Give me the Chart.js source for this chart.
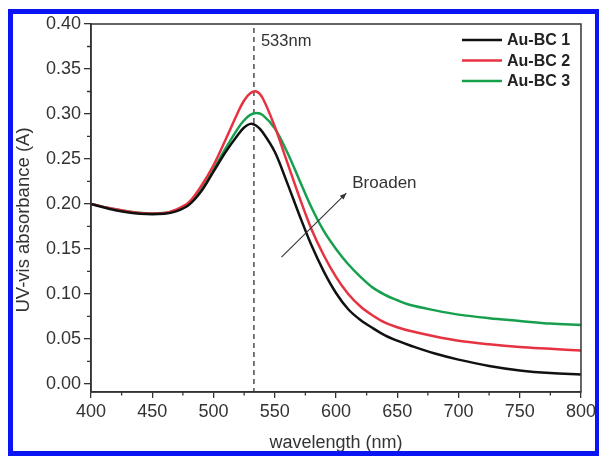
<!DOCTYPE html>
<html><head><meta charset="utf-8">
<script src="https://cdn.jsdelivr.net/npm/chart.js@4.4.1/dist/chart.umd.min.js"></script>
<style>html,body{margin:0;padding:0;background:#fff;}#wrap{width:599px;height:456px;}</style>
</head><body><div id="wrap"><canvas id="c" width="599" height="456"></canvas></div>
<script>
// ---- data ----
const wavelengths = [400,420,440,460,470,480,490,500,510,520,525,530,535,540,550,560,570,580,590,600,610,620,630,640,650,660,680,700,725,750,775,800];
const auBC1 = [0.200,0.193,0.189,0.189,0.192,0.199,0.214,0.236,0.258,0.277,0.285,0.289,0.287,0.280,0.258,0.224,0.188,0.154,0.125,0.101,0.083,0.071,0.062,0.054,0.048,0.043,0.034,0.027,0.020,0.015,0.012,0.0105];
const auBC2 = [0.200,0.194,0.190,0.190,0.194,0.202,0.220,0.243,0.272,0.302,0.315,0.323,0.325,0.318,0.286,0.247,0.208,0.172,0.143,0.119,0.100,0.086,0.076,0.068,0.063,0.059,0.053,0.048,0.044,0.041,0.039,0.037];
const auBC3 = [0.200,0.194,0.190,0.190,0.193,0.200,0.216,0.238,0.262,0.284,0.293,0.299,0.301,0.299,0.284,0.258,0.227,0.196,0.170,0.150,0.133,0.119,0.107,0.099,0.093,0.088,0.082,0.077,0.073,0.070,0.067,0.0655];
const seriesLabels = ['Au-BC 1','Au-BC 2','Au-BC 3'];
const xTicks = [400,450,500,550,600,650,700,750,800];
const yTicks = [0,0.05,0.10,0.15,0.20,0.25,0.30,0.35,0.40];
const xMinorTicks = [425,475,525,575,625,675,725,775];
const yMinorTicks = [0.025,0.075,0.125,0.175,0.225,0.275,0.325,0.375];
const peakWavelength = 533;
const peakLabel = '533nm';
const arrowFrom = [555.5, 0.141];
const arrowTo = [608.4, 0.212];
const arrowLabel = 'Broaden';
const xTitle = 'wavelength (nm)';
const yTitle = 'UV-vis absorbance (A)';

// ---- styles ----
const FONT = '"Liberation Sans", Arial, sans-serif';
const INK = '#333';
const colors = ['#111111','#e63241','#16a04e'];

const toPts = arr => wavelengths.map((w,i)=>({x:w,y:arr[i]}));

const decor = {
  id:'decor',
  beforeDatasetsDraw(chart){
    const {ctx, chartArea:a, scales:{x}} = chart;
    const px = x.getPixelForValue(peakWavelength);
    ctx.save();
    ctx.strokeStyle = '#222'; ctx.lineWidth = 1.2; ctx.setLineDash([5,4]);
    ctx.beginPath(); ctx.moveTo(px, a.top+4); ctx.lineTo(px, a.bottom); ctx.stroke();
    ctx.restore();
  },
  afterDraw(chart){
    const {ctx, chartArea:a, scales:{x,y}} = chart;
    ctx.save();
    // plot frame
    ctx.strokeStyle = INK; ctx.lineWidth = 1.5;
    ctx.strokeRect(a.left, a.top, a.right-a.left, a.bottom-a.top);
    // minor ticks
    ctx.lineWidth = 1.3;
    ctx.beginPath();
    xMinorTicks.forEach(v=>{const p=x.getPixelForValue(v); ctx.moveTo(p,a.bottom); ctx.lineTo(p,a.bottom+3.5);});
    yMinorTicks.forEach(v=>{const p=y.getPixelForValue(v); ctx.moveTo(a.left,p); ctx.lineTo(a.left-4,p);});
    ctx.stroke();
    // y axis title
    ctx.save();
    ctx.translate(24, (a.top+a.bottom)/2 + 12);
    ctx.rotate(-Math.PI/2);
    ctx.font = '18.5px '+FONT; ctx.fillStyle = INK; ctx.textAlign='center'; ctx.textBaseline='middle';
    ctx.fillText(yTitle, 0, 0);
    ctx.restore();
    // peak label
    const px = x.getPixelForValue(peakWavelength);
    ctx.fillStyle = INK; ctx.font = '16.5px '+FONT; ctx.textBaseline='middle'; ctx.textAlign='left';
    ctx.fillText(peakLabel, px+7, a.top+17);
    // arrow
    const x0=x.getPixelForValue(arrowFrom[0]), y0=y.getPixelForValue(arrowFrom[1]);
    const x1=x.getPixelForValue(arrowTo[0]), y1=y.getPixelForValue(arrowTo[1]);
    ctx.strokeStyle = INK; ctx.lineWidth = 1.1;
    ctx.beginPath(); ctx.moveTo(x0,y0); ctx.lineTo(x1,y1); ctx.stroke();
    const ang = Math.atan2(y1-y0,x1-x0), L=7, W=0.4;
    ctx.beginPath(); ctx.moveTo(x1,y1);
    ctx.lineTo(x1-L*Math.cos(ang-W), y1-L*Math.sin(ang-W));
    ctx.lineTo(x1-L*Math.cos(ang+W), y1-L*Math.sin(ang+W));
    ctx.closePath(); ctx.fillStyle=INK; ctx.fill();
    ctx.font = '17px '+FONT; ctx.fillStyle=INK;
    ctx.fillText(arrowLabel, x1+6, y1-10);
    // legend
    ctx.font = 'bold 16px '+FONT;
    chart.data.datasets.forEach((ds,i)=>{
      const ly = a.top + 16 + i*20.5;
      ctx.strokeStyle = ds.borderColor; ctx.lineWidth = 2.5;
      ctx.beginPath(); ctx.moveTo(a.right-119, ly); ctx.lineTo(a.right-79, ly); ctx.stroke();
      ctx.fillStyle = '#222'; ctx.fillText(ds.label, a.right-74, ly+1);
    });
    // outer blue frame
    ctx.strokeStyle = '#0a14f5'; ctx.lineWidth = 5;
    ctx.strokeRect(10.5, 11.5, 587, 442);
    ctx.restore();
  }
};

new Chart(document.getElementById('c'), {
  type:'line',
  data:{datasets:[
    {label:seriesLabels[0], data:toPts(auBC1), borderColor:colors[0]},
    {label:seriesLabels[1], data:toPts(auBC2), borderColor:colors[1]},
    {label:seriesLabels[2], data:toPts(auBC3), borderColor:colors[2]}
  ]},
  options:{
    responsive:false, animation:false, devicePixelRatio:1,
    layout:{padding:{top:24,right:17,left:0,bottom:0}},
    plugins:{legend:{display:false}, tooltip:{enabled:false}},
    elements:{point:{radius:0}, line:{borderWidth:2.5, tension:0.35, fill:false}},
    scales:{
      x:{type:'linear', min:400, max:800,
        afterFit:s=>{s.height=64;},
        afterBuildTicks:s=>{s.ticks=xTicks.map(v=>({value:v}));},
        ticks:{font:{family:FONT,size:18}, color:INK, padding:3, maxRotation:0, autoSkip:false},
        grid:{drawOnChartArea:false, tickLength:6, color:INK, lineWidth:1.3},
        border:{display:true, color:INK, width:1.5},
        title:{display:true, text:xTitle, font:{family:FONT,size:18}, color:INK, padding:{top:0,bottom:2}}
      },
      y:{type:'linear', min:-0.009, max:0.40,
        afterFit:s=>{s.width=91;},
        afterBuildTicks:s=>{s.ticks=yTicks.map(v=>({value:v}));},
        ticks:{font:{family:FONT,size:18}, color:INK, padding:3, callback:v=>Number(v).toFixed(2), autoSkip:false},
        grid:{drawOnChartArea:false, tickLength:7, color:INK, lineWidth:1.3},
        border:{display:true, color:INK, width:1.5},
        title:{display:false}
      }
    }
  },
  plugins:[decor]
});
</script></body></html>
